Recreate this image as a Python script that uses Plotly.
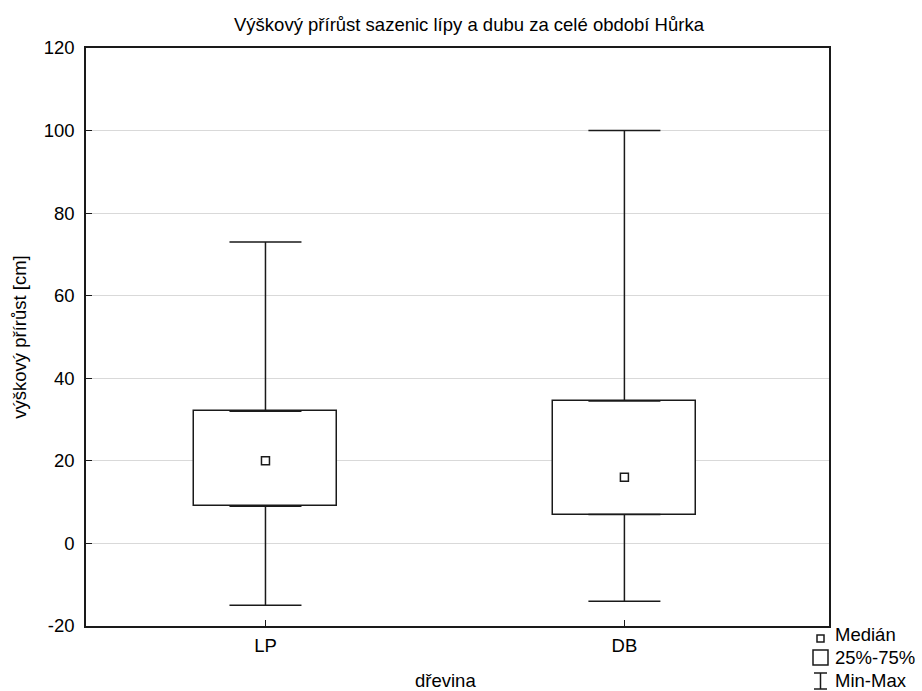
import plotly.graph_objects as go

categories = ["LP", "DB"]
minimum = [-15, -14]
q1 = [9, 7]
median = [20, 16]
q3 = [32, 34.5]
maximum = [73, 100]

y_ticks = [-20, 0, 20, 40, 60, 80, 100, 120]
y_tick_labels = ["-20", "0", "20", "40", "60", "80", "100", "120"]

FONT = "Liberation Sans, Arial, sans-serif"
FS = 18.5
LINE = "#1a1a1a"

fig = go.Figure()

# upper whiskers (q3 -> max)
fig.add_trace(go.Scatter(
    x=categories, y=q3, mode="markers",
    marker=dict(size=1, opacity=0),
    error_y=dict(type="data", symmetric=False,
                 array=[mx - u for mx, u in zip(maximum, q3)],
                 arrayminus=[0, 0], color=LINE, thickness=1.5, width=36),
    showlegend=False, hoverinfo="skip"))
# lower whiskers (min -> q1)
fig.add_trace(go.Scatter(
    x=categories, y=q1, mode="markers",
    marker=dict(size=1, opacity=0),
    error_y=dict(type="data", symmetric=False,
                 array=[0, 0],
                 arrayminus=[l - mn for l, mn in zip(q1, minimum)],
                 color=LINE, thickness=1.5, width=36),
    showlegend=False, hoverinfo="skip"))
# boxes
fig.add_trace(go.Bar(
    x=categories, y=[u - l for u, l in zip(q3, q1)], base=q1, width=0.4,
    marker=dict(color="white", line=dict(color=LINE, width=1.5)),
    showlegend=False, hoverinfo="skip"))
# medians
fig.add_trace(go.Scatter(
    x=categories, y=median, mode="markers",
    marker=dict(symbol="square", size=8, color="white",
                line=dict(color=LINE, width=1.5)),
    showlegend=False, hoverinfo="skip"))

W, H = 922, 691
fig.update_layout(
    width=W, height=H,
    margin=dict(l=86, r=93, t=48, b=65, autoexpand=False),
    paper_bgcolor="white", plot_bgcolor="white",
    font=dict(family=FONT, size=FS, color="black"),
    title=dict(text="Výškový přírůst sazenic lípy a dubu za celé období Hůrka",
               x=469 / W, xanchor="center", xref="container",
               y=1 - 25 / H, yanchor="middle", yref="container",
               font=dict(size=FS, family=FONT)),
    bargap=0,
)
fig.update_xaxes(
    type="category", range=[-0.5, 1.57], automargin=False,
    showline=True, linecolor=LINE, linewidth=1.5, mirror=True,
    ticks="inside", ticklen=6, tickcolor=LINE, showgrid=False,
    tickfont=dict(size=FS, family=FONT), ticklabelstandoff=2,
)
fig.update_yaxes(
    range=[-20, 120], tickvals=y_ticks, ticktext=y_tick_labels, automargin=False,
    showline=True, linecolor=LINE, linewidth=1.5, mirror=True,
    ticks="inside", ticklen=6, tickcolor=LINE,
    showgrid=True, gridcolor="#d9d9d9", gridwidth=1, zeroline=False,
    tickfont=dict(size=FS, family=FONT), ticklabelstandoff=6,
    title=dict(text="výškový přírůst [cm]", font=dict(size=FS, family=FONT), standoff=12),
)

# pixel -> paper helpers for legend / x title placement
def px(x):
    return (x - 86) / (W - 86 - 93)
def py(y):
    return (626 - y) / (626 - 48)

# x axis title
fig.add_annotation(xref="paper", yref="paper", x=px(445), y=py(680),
                   xanchor="center", yanchor="middle", text="dřevina",
                   showarrow=False, borderpad=0,
                   font=dict(size=FS, family=FONT, color="black"))

shapes = [
    dict(type="rect", xref="paper", yref="paper",
         x0=px(817), x1=px(824), y0=py(642), y1=py(635),
         line=dict(color=LINE, width=1.5), fillcolor="white"),
    dict(type="rect", xref="paper", yref="paper",
         x0=px(813), x1=px(828), y0=py(665), y1=py(650),
         line=dict(color=LINE, width=1.5), fillcolor="white"),
    dict(type="line", xref="paper", yref="paper",
         x0=px(820.5), x1=px(820.5), y0=py(689), y1=py(673),
         line=dict(color=LINE, width=1.5)),
    dict(type="line", xref="paper", yref="paper",
         x0=px(814), x1=px(827), y0=py(673), y1=py(673),
         line=dict(color=LINE, width=1.5)),
    dict(type="line", xref="paper", yref="paper",
         x0=px(814), x1=px(827), y0=py(689), y1=py(689),
         line=dict(color=LINE, width=1.5)),
]
for s in shapes:
    s["layer"] = "above"
fig.update_layout(shapes=shapes)

for label, yc in [("Medián", 634), ("25%-75%", 657), ("Min-Max", 680)]:
    fig.add_annotation(xref="paper", yref="paper", x=px(834), y=py(yc),
                       xanchor="left", yanchor="middle", text=label,
                       showarrow=False, borderpad=0,
                       font=dict(size=FS, family=FONT, color="black"))

fig.write_html("out.html", config={"displayModeBar": False},
               post_script="document.body.style.margin='0';document.body.style.overflow='hidden';")
